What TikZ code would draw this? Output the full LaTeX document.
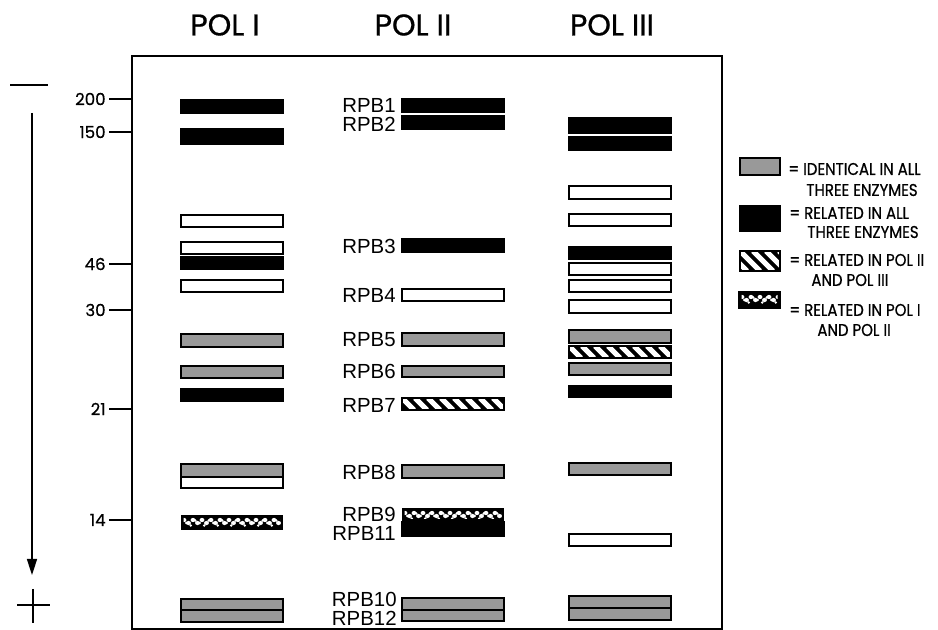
\documentclass[tikz,border=0pt]{standalone}
\usepackage{fontspec}
\setmainfont{Liberation Sans}
\newfontfamily\geo[FakeBold=0.6]{Poppins}
\newfontfamily\geonarrow[FakeBold=0.7,FakeStretch=0.88]{Poppins}
\usetikzlibrary{arrows.meta}

% band styles
\tikzset{
  blk/.style={fill=black,draw=black,line width=0.6pt},
  wht/.style={fill=white,draw=black,line width=1.2pt},
  gry/.style={fill=black!40,draw=black,line width=1.4pt},
  rpb/.style={anchor=east,inner sep=0pt,font=\fontsize{10.2}{10.5}\selectfont},
  mw/.style={anchor=east,inner sep=0pt,font=\geo\fontsize{8.3}{9}\selectfont},
  hdr/.style={inner sep=0pt,font=\geo\fontsize{15}{16}\selectfont},
  lgd/.style={anchor=west,inner sep=0pt,font=\geonarrow\fontsize{8.5}{9}\selectfont},
}

% black band with white diagonal stripes
\newcommand\hatchband[4]{%
  \begin{scope}
    \clip (#1,#2) rectangle (#3,#4);
    \fill[black] (#1,#2) rectangle (#3,#4);
    \foreach \k in {-3,...,12}{
      \draw[white,line width=2.6pt] ({#1+\k*13},#2) -- ({#1+\k*13+(#4-#2)},#4);
    }
  \end{scope}
  \draw[black,line width=1.2pt] (#1,#2) rectangle (#3,#4);
}

% black band with white pebble grain
\newcommand\pebbleband[4]{%
  \fill[black] (#1,#2) rectangle (#3,#4);
  \begin{scope}
    \clip ({#1+2.5},{#2+2.5}) rectangle ({#3-2.5},{#4-3});
    \pgfmathtruncatemacro\nb{(#3-#1)/4.5}
    \foreach \i in {0,...,\nb}{
      \pgfmathsetmacro\cx{#1+3+\i*4.5}
      \pgfmathsetmacro\cy{#2+5+mod(\i,2)*3}
      \fill[white] (\cx,\cy) ellipse [x radius=2.4,y radius=2.1];
      \pgfmathsetmacro\cz{#2+4+mod(\i+1,3)*2.5}
      \fill[white] ({\cx+2.2},{\cz+1.5}) ellipse [x radius=1.4,y radius=1.3];
    }
  \end{scope}
}

\begin{document}
\begin{tikzpicture}[x=0.5pt,y=-0.5pt]
\path[use as bounding box] (0,0) rectangle (938,630);

% frame
\draw[line width=0.9pt] (132,56) rectangle (722,629);

% column headings
\node[hdr] (h1) at (225,25) {POL I};
\node[hdr] (h2) at (413,25) {POL II};
\node[hdr] (h3) at (612,25) {POL III};

% molecular weight scale
\foreach \lab/\yy in {200/99,150/132,46/264,30/310,21/409,14/520}{
  \node[mw] (mw\lab) at (106,\yy) {\lab};
  \draw[line width=0.8pt] (109,\yy) -- (132,\yy);
}

% migration direction
\draw[line width=0.7pt] (10,85) -- (48,85);
\coordinate (atop) at (32,113);
\coordinate (abot) at (32,575);
\draw[line width=0.8pt,-{Triangle[length=8pt,width=5pt]}] (atop) -- (abot);
\draw[line width=0.8pt] (17,605) -- (50,605);
\draw[line width=0.8pt] (33,589) -- (33,623);

% ---------- POL I ----------
\def\xa{181}\def\xb{283}
\draw[blk] (\xa,100) rectangle (\xb,113);
\draw[blk] (\xa,129) rectangle (\xb,144);
\draw[wht] (\xa,215) rectangle (\xb,227);
\draw[wht] (\xa,242) rectangle (\xb,254);
\draw[blk] (\xa,257) rectangle (\xb,269);
\draw[wht] (\xa,280) rectangle (\xb,292);
\draw[gry] (\xa,334) rectangle (\xb,347);
\draw[gry] (\xa,366) rectangle (\xb,378);
\draw[blk] (\xa,389) rectangle (\xb,401);
\draw[gry] (\xa,464) rectangle (\xb,477);
\draw[wht] (\xa,477) rectangle (\xb,488);
\pebbleband{\xa}{515}{\xb}{530}
\draw[gry] (\xa,599) rectangle (\xb,610);
\draw[gry] (\xa,610) rectangle (\xb,622);

% ---------- POL II ----------
\def\xa{402}\def\xb{504}
\draw[blk] (\xa,99) rectangle (\xb,112);
\draw[blk] (\xa,116) rectangle (\xb,129);
\draw[blk] (\xa,239) rectangle (\xb,252);
\draw[wht] (\xa,289) rectangle (\xb,301);
\draw[gry] (\xa,333) rectangle (\xb,346);
\draw[gry] (\xa,366) rectangle (\xb,377);
\hatchband{\xa}{398}{\xb}{410}
\draw[gry] (\xa,465) rectangle (\xb,478);
\pebbleband{\xa}{508}{\xb}{522}
\draw[blk] (\xa,522) rectangle (\xb,536);
\draw[gry] (\xa,598) rectangle (\xb,610);
\draw[gry] (\xa,610) rectangle (\xb,621);

\node[rpb] (rpb1)  at (396,105) {RPB1};
\node[rpb] (rpb2)  at (396,124) {RPB2};
\node[rpb] (rpb3)  at (396,246) {RPB3};
\node[rpb] (rpb4)  at (396,295) {RPB4};
\node[rpb] (rpb5)  at (396,340) {RPB5};
\node[rpb] (rpb6)  at (396,371) {RPB6};
\node[rpb] (rpb7)  at (396,405) {RPB7};
\node[rpb] (rpb8)  at (396,472) {RPB8};
\node[rpb] (rpb9)  at (396,514) {RPB9};
\node[rpb] (rpb11) at (396,533) {RPB11};
\node[rpb] (rpb10) at (397,599) {RPB10};
\node[rpb] (rpb12) at (397,618) {RPB12};

% ---------- POL III ----------
\def\xa{569}\def\xb{671}
\draw[blk] (\xa,118) rectangle (\xb,133);
\draw[blk] (\xa,137) rectangle (\xb,150);
\draw[wht] (\xa,186) rectangle (\xb,199);
\draw[wht] (\xa,214) rectangle (\xb,226);
\draw[blk] (\xa,247) rectangle (\xb,259);
\draw[wht] (\xa,263) rectangle (\xb,275);
\draw[wht] (\xa,280) rectangle (\xb,292);
\draw[wht] (\xa,300) rectangle (\xb,313);
\draw[gry] (\xa,330) rectangle (\xb,343);
\hatchband{\xa}{346}{\xb}{358}
\draw[gry] (\xa,363) rectangle (\xb,375);
\draw[blk] (\xa,386) rectangle (\xb,397);
\draw[gry] (\xa,463) rectangle (\xb,475);
\draw[wht] (\xa,534) rectangle (\xb,546);
\draw[gry] (\xa,596) rectangle (\xb,608);
\draw[gry] (\xa,608) rectangle (\xb,620);

% ---------- legend ----------
\draw[gry] (740,158) rectangle (780,175);
\draw[blk] (740,206) rectangle (780,231);
\hatchband{740}{251}{780}{271}
\pebbleband{739}{292}{780}{308}
\draw[black,line width=0.8pt] (739,292) rectangle (780,308);

\node[lgd] (l1a) at (788,169) {= IDENTICAL IN ALL};
\node[lgd] (l1b) at (806,190) {THREE ENZYMES};
\node[lgd] (l2a) at (789,213) {= RELATED IN ALL};
\node[lgd] (l2b) at (807,232) {THREE ENZYMES};
\node[lgd] (l3a) at (789,260) {= RELATED IN POL II};
\node[lgd] (l3b) at (811,280) {AND POL III};
\node[lgd] (l4a) at (789,310) {= RELATED IN POL I};
\node[lgd] (l4b) at (817,330) {AND POL II};
\end{tikzpicture}
\end{document}
